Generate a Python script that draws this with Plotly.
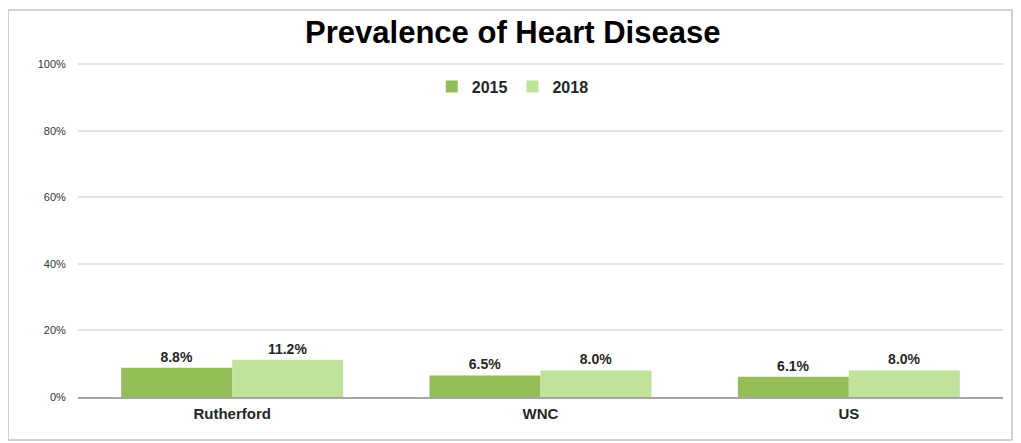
import plotly.graph_objects as go

regions = ["Rutherford", "WNC", "US"]
vals_2015 = [8.8, 6.5, 6.1]
vals_2018 = [11.2, 8.0, 8.0]
y_ticks = [0, 20, 40, 60, 80, 100]
y_tick_labels = ["0%", "20%", "40%", "60%", "80%", "100%"]

FONT = "Liberation Sans, Arial"

fig = go.Figure()
fig.add_trace(go.Bar(
    x=regions, y=vals_2015, name="<b>2015</b>",
    marker=dict(color="#95bd57", line=dict(width=0)),
    text=[f"<b>{v:.1f}%</b>" for v in vals_2015], textposition="outside",
    textfont=dict(family=FONT, size=14, color="#262626"),
    cliponaxis=False,
))
fig.add_trace(go.Bar(
    x=regions, y=vals_2018, name="<b>2018</b>",
    marker=dict(color="#c0e29b", line=dict(width=0)),
    text=[f"<b>{v:.1f}%</b>" for v in vals_2018], textposition="outside",
    textfont=dict(family=FONT, size=14, color="#262626"),
    cliponaxis=False,
))

# page body has an 8px margin, so the figure is drawn 8px smaller and offset
fig.update_layout(
    width=1013, height=435,
    margin=dict(l=70, r=18, t=53, b=46),
    paper_bgcolor="white", plot_bgcolor="white",
    barmode="group", bargap=0.28, bargroupgap=0,
    title=dict(text="<b>Prevalence of Heart Disease</b>",
               x=0.47, xref="paper", xanchor="center",
               y=1 - 24 / 435, yref="container", yanchor="middle",
               font=dict(family=FONT, size=31, color="black")),
    legend=dict(orientation="h", x=0.47, xanchor="center", y=0.924, yanchor="middle",
                font=dict(family=FONT, size=16, color="#262626"),
                itemwidth=30, bgcolor="rgba(0,0,0,0)"),
    font=dict(family=FONT, color="#333333"),
    shapes=[dict(type="rect", xref="paper", yref="paper",
                 x0=-70 / 925, x1=934 / 925, y0=-43 / 336, y1=387 / 336,
                 line=dict(color="#c4c4c4", width=1.5))],
    yaxis=dict(range=[0, 101], tickmode="array", tickvals=y_ticks, ticktext=y_tick_labels,
               showgrid=True, gridcolor="#e3e3e3", gridwidth=1.5,
               zeroline=False, showline=False,
               tickfont=dict(family=FONT, size=11, color="#333333"),
               ticks="outside", ticklen=9, tickcolor="rgba(0,0,0,0)"),
    xaxis=dict(showline=True, linecolor="#a6a6a6", linewidth=1.5,
               tickmode="array", tickvals=regions,
               ticktext=[f"<b>{r}</b>" for r in regions],
               tickfont=dict(family=FONT, size=15, color="#262626"),
               ticks="outside", ticklen=2, tickcolor="rgba(0,0,0,0)"),
)

fig.write_html("out.html")
